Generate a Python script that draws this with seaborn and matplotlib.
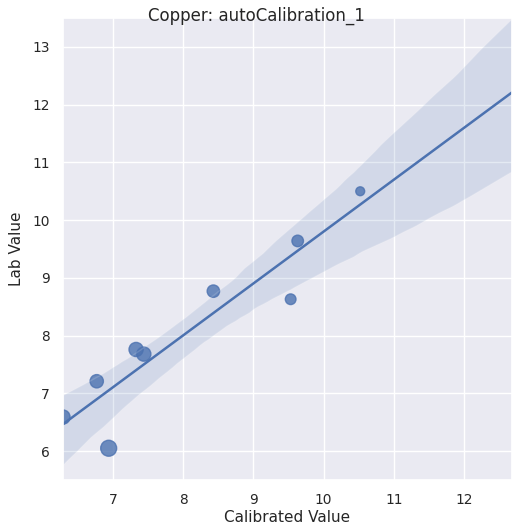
import numpy as np
import pandas as pd
import seaborn as sns
import matplotlib
matplotlib.use('Agg')
import matplotlib.pyplot as plt

# values
calibrated = [10.52, 9.63, 9.53, 8.43, 7.33, 7.44, 6.77, 6.94, 6.29]
lab = [10.50, 9.64, 8.63, 8.77, 7.76, 7.68, 7.21, 6.05, 6.59]
point_size = [41, 69, 59, 80, 104, 104, 92, 132, 104]

df = pd.DataFrame({'Calibrated Value': calibrated, 'Lab Value': lab})

sns.set_theme(font_scale=0.9)
fig = plt.figure(figsize=(5.12, 5.26), dpi=100)
ax = fig.add_axes([63 / 512, 1 - 480 / 526, 1 - 63 / 512, 462 / 526])
# limits first so the fitted line runs across the whole axes
ax.set_xlim(6.29, 12.68)
ax.set_ylim(5.5, 13.5)

sns.regplot(data=df, x='Calibrated Value', y='Lab Value', ax=ax, truncate=False,
            scatter_kws={'s': point_size}, line_kws={'linewidth': 1.8})
ax.set_xlim(6.29, 12.68)
ax.set_ylim(5.5, 13.5)
ax.set_xticks([7, 8, 9, 10, 11, 12])
ax.set_yticks([6, 7, 8, 9, 10, 11, 12, 13])
ax.set_xlabel('Calibrated Value', fontsize=11, labelpad=2)
ax.set_ylabel('Lab Value', fontsize=11, labelpad=6)
fig.suptitle('Copper: autoCalibration_1', y=0.988, fontsize=12)

fig.savefig('out.png', dpi=100)
